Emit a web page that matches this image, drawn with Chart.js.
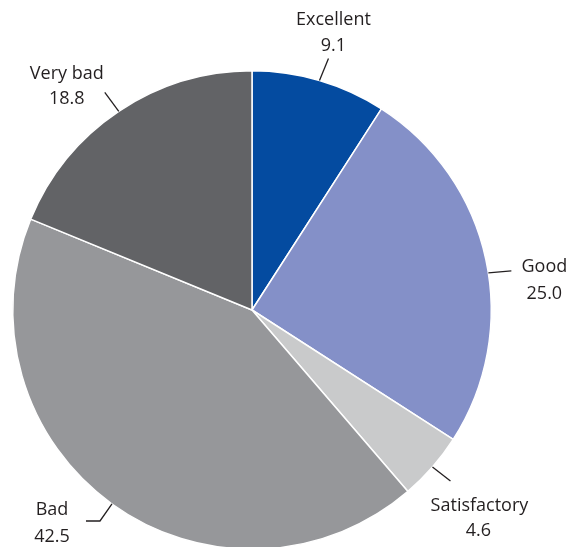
<!DOCTYPE html>
<html>
<head>
<meta charset="utf-8">
<script src="https://cdn.jsdelivr.net/npm/chart.js@4/dist/chart.umd.min.js"></script>
<style>
html,body{margin:0;padding:0;background:#fff;overflow:hidden;width:570px;height:547px;}
#wrap{position:absolute;left:0;top:0;width:570px;height:620px;}
</style>
</head>
<body>
<div id="wrap"><canvas id="c" width="570" height="620"></canvas></div>
<script>
const categories = ["Excellent", "Good", "Satisfactory", "Bad", "Very bad"];
const values = [9.1, 25.0, 4.6, 42.5, 18.8];
const valueLabels = ["9.1", "25.0", "4.6", "42.5", "18.8"];
const colors = ["#044ba0", "#8490c8", "#c9cacb", "#96979a", "#626366"];

// label styling: angle shift (deg), leader vector, horizontal tail, text offsets from leader end
const labelStyle = [
  {shift: 0,   vec: [9, -22],  tail: 0,   t1: [5, -39],  t2: [5, -13]},
  {shift: 3.3, vec: [23, -2],  tail: 0,   t1: [33, -4],  t2: [33, 23]},
  {shift: 0,   vec: [18, 14],  tail: 0,   t1: [29, 25],  t2: [28, 50]},
  {shift: 0,   vec: [-12, 17], tail: -14, t1: [-34, -11], t2: [-34, 16]},
  {shift: 0,   vec: [-14, -19], tail: 0,  t1: [-38, -18], t2: [-38, 7]}
];

const labelPlugin = {
  id: 'pieLabels',
  afterDatasetsDraw(chart) {
    const ctx = chart.ctx;
    const meta = chart.getDatasetMeta(0);
    ctx.save();
    ctx.font = '18px "Open Sans", "Noto Sans", sans-serif';
    ctx.fillStyle = '#231f20';
    ctx.strokeStyle = '#231f20';
    ctx.lineWidth = 1.3;
    ctx.textAlign = 'center';
    ctx.textBaseline = 'middle';
    meta.data.forEach((arc, i) => {
      const p = arc.getProps(['x','y','startAngle','endAngle','outerRadius'], true);
      const s = labelStyle[i];
      const a = (p.startAngle + p.endAngle) / 2 + s.shift * Math.PI / 180;
      const x0 = p.x + Math.cos(a) * p.outerRadius;
      const y0 = p.y + Math.sin(a) * p.outerRadius;
      const x1 = x0 + s.vec[0], y1 = y0 + s.vec[1];
      const x2 = x1 + s.tail;
      ctx.beginPath();
      ctx.moveTo(x0, y0);
      ctx.lineTo(x1, y1);
      if (s.tail) ctx.lineTo(x2, y1);
      ctx.stroke();
      ctx.fillText(categories[i], x2 + s.t1[0], y1 + s.t1[1]);
      ctx.fillText(valueLabels[i], x2 + s.t2[0], y1 + s.t2[1]);
    });
    ctx.restore();
  }
};

new Chart(document.getElementById('c'), {
  type: 'pie',
  data: {
    labels: categories,
    datasets: [{
      data: values,
      backgroundColor: colors,
      borderColor: '#ffffff',
      borderWidth: 1.5
    }]
  },
  options: {
    responsive: false,
    animation: false,
    layout: {padding: {left: 12, right: 78, top: 70, bottom: 70}},
    plugins: {legend: {display: false}, tooltip: {enabled: false}}
  },
  plugins: [labelPlugin]
});
</script>
</body>
</html>
